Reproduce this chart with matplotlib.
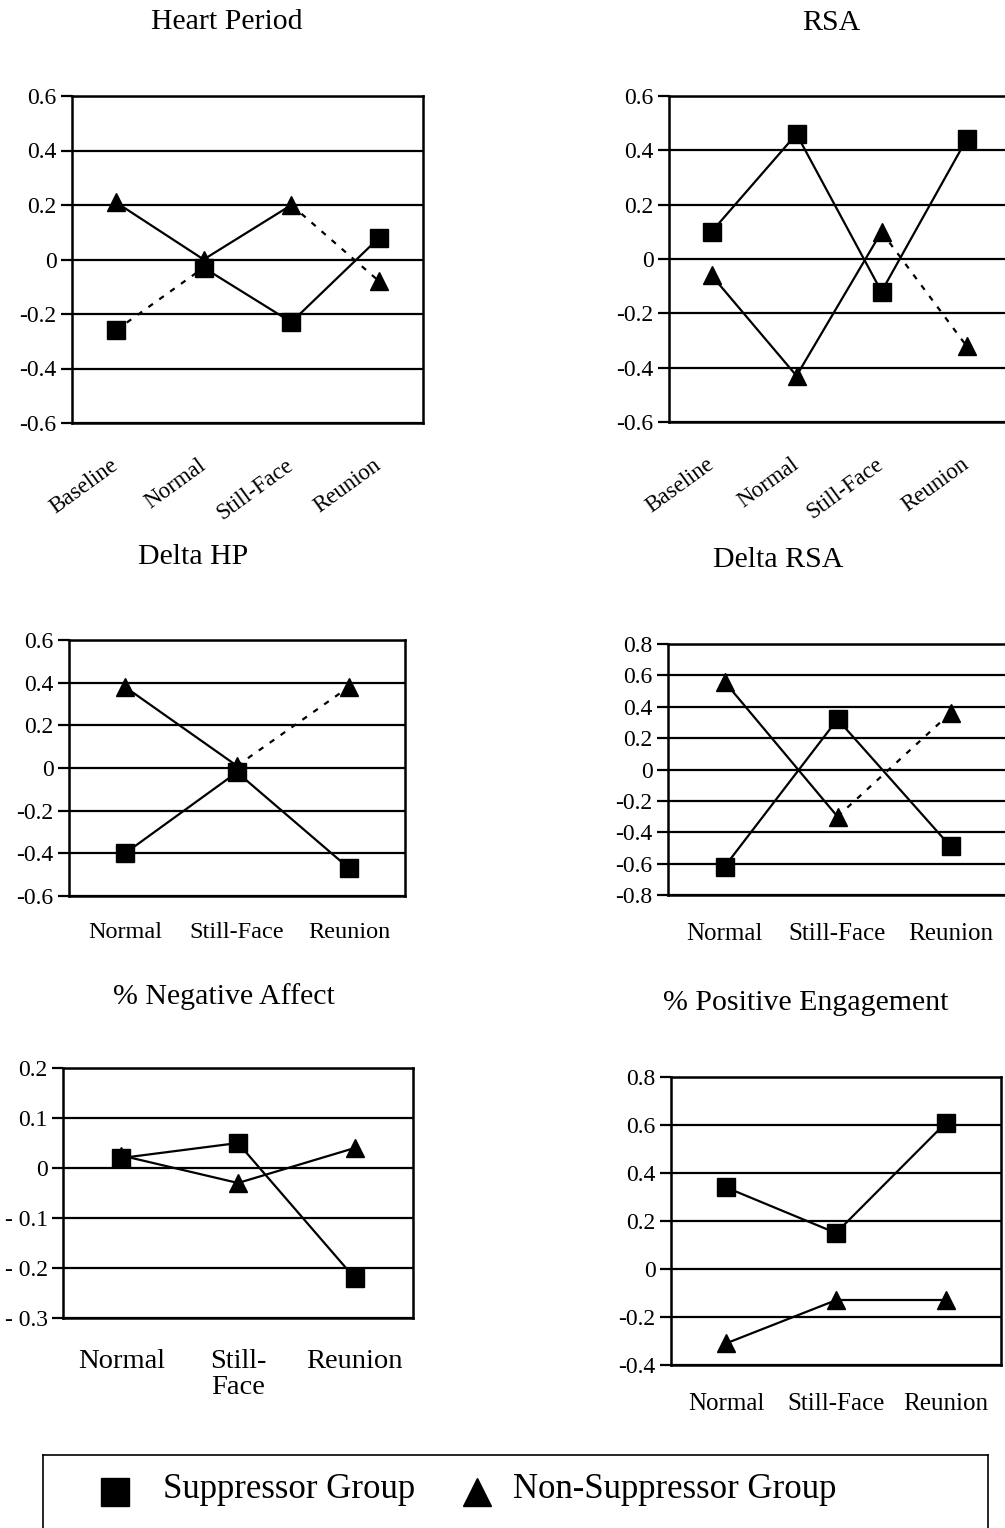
import matplotlib
matplotlib.use("Agg")
import matplotlib.pyplot as plt
import numpy as np

plt.rcParams['font.family'] = ['Liberation Serif', 'DejaVu Serif']

W, H = 1005, 1528

# ---------------- data ----------------
cats4 = ["Baseline", "Normal", "Still-Face", "Reunion"]
cats3 = ["Normal", "Still-Face", "Reunion"]
cats3_na = ["Normal", "Still-\nFace", "Reunion"]

hp_sup = [-0.26, -0.03, -0.23, 0.08]
hp_non = [0.21, 0.00, 0.20, -0.08]

rsa_sup = [0.10, 0.46, -0.12, 0.44]
rsa_non = [-0.06, -0.43, 0.10, -0.32]

dhp_sup = [-0.40, -0.02, -0.47]
dhp_non = [0.38, 0.01, 0.38]

drsa_sup = [-0.62, 0.32, -0.49]
drsa_non = [0.56, -0.30, 0.36]

na_sup = [0.02, 0.05, -0.22]
na_non = [0.025, -0.03, 0.04]

pe_sup = [0.34, 0.15, 0.61]
pe_non = [-0.31, -0.13, -0.13]

titles = ["Heart Period", "RSA", "Delta HP", "Delta RSA",
          "% Negative Affect", "% Positive Engagement"]
legend_labels = ["Suppressor Group", "Non-Suppressor Group"]

fig = plt.figure(figsize=(W / 100, H / 100), dpi=100)


def rect(l, t, r, b):
    return [l / W, 1 - b / H, (r - l) / W, (b - t) / H]


def panel(box, cats, sup, non, ylim, step, sup_styles, non_styles,
          rot=False, xfs=15, tick_fmt=None, xpad=8, yfs=17, linesp=1.2):
    ax = fig.add_axes(rect(*box))
    x = np.arange(len(cats))
    ax.set_xlim(-0.5, len(cats) - 0.5)
    ax.set_ylim(*ylim)
    yt = np.round(np.arange(ylim[0], ylim[1] + step / 2, step), 3)
    ax.set_yticks(yt)
    if tick_fmt is None:
        lab = [("0" if abs(v) < 1e-9 else f"{v:.1f}") for v in yt]
    else:
        lab = [tick_fmt(v) for v in yt]
    ax.set_yticklabels(lab, fontsize=yfs)
    for v in yt:
        ax.axhline(v, color='black', lw=1.6, zorder=1)
    ax.tick_params(axis='y', direction='out', length=8, width=1.6, pad=3)
    ax.tick_params(axis='x', length=0)
    ax.set_xticks(x)
    if rot:
        ax.set_xticklabels(cats, rotation=36, ha='right', va='center',
                           rotation_mode='anchor', fontsize=16.5)
    else:
        ax.set_xticklabels(cats, fontsize=xfs, linespacing=linesp)
    ax.tick_params(axis='x', pad=xpad)
    for s in ax.spines.values():
        s.set_linewidth(1.8)
    for yv, styles in ((sup, sup_styles), (non, non_styles)):
        for i in range(len(yv) - 1):
            ax.plot(x[i:i + 2], yv[i:i + 2], color='black', lw=1.6,
                    linestyle=styles[i], zorder=2,
                    dashes=(2.5, 3.5) if styles[i] == '--' else (None, None))
    ax.plot(x, sup, 's', color='black', ms=13, zorder=3, clip_on=False)
    ax.plot(x, non, '^', color='black', ms=13, zorder=3, clip_on=False)
    return ax


panel((72, 96, 423, 423), cats4, hp_sup, hp_non, (-0.6, 0.6), 0.2,
      ['--', '-', '-'], ['-', '-', '--'], rot=True, xpad=29)
panel((669, 96, 1009, 422), cats4, rsa_sup, rsa_non, (-0.6, 0.6), 0.2,
      ['-', '-', '-'], ['-', '-', '--'], rot=True, xpad=29)
panel((69, 640, 405, 896), cats3, dhp_sup, dhp_non, (-0.6, 0.6), 0.2,
      ['-', '-'], ['-', '--'], xfs=17.5, xpad=19)
panel((668, 644, 1007, 895), cats3, drsa_sup, drsa_non, (-0.8, 0.8), 0.2,
      ['-', '-'], ['-', '--'], xfs=18, xpad=20)
panel((63, 1068, 413, 1318), cats3_na, na_sup, na_non, (-0.3, 0.2), 0.1,
      ['-', '-'], ['-', '-'], xfs=20.5, xpad=22, linesp=1.1,
      tick_fmt=lambda v: "0" if abs(v) < 1e-9 else
      (f"- {abs(v):.1f}" if v < 0 else f"{v:.1f}"))
panel((671, 1077, 1001, 1365), cats3, pe_sup, pe_non, (-0.4, 0.8), 0.2,
      ['-', '-'], ['-', '-'], xfs=18, xpad=20)

title_pos = [(227, 22), (831, 23), (193, 557), (778, 560), (224, 997), (806, 1003)]
for t, (px, py) in zip(titles, title_pos):
    fig.text(px / W, 1 - py / H, t, ha='center', va='center', fontsize=21.5)

# legend box
lax = fig.add_axes(rect(43, 1455, 988, 1540))
lax.set_xlim(0, 1)
lax.set_ylim(0, 1)
lax.set_xticks([])
lax.set_yticks([])
for s in lax.spines.values():
    s.set_linewidth(1.2)
lax.plot([0.0762], [0.57], 's', color='black', ms=20, transform=lax.transAxes)
lax.plot([0.459], [0.56], '^', color='black', ms=20, transform=lax.transAxes)
lax.text(0.127, 0.60, legend_labels[0], fontsize=25, va='center', ha='left',
         transform=lax.transAxes)
lax.text(0.497, 0.60, legend_labels[1], fontsize=25, va='center', ha='left',
         transform=lax.transAxes)

fig.savefig("out.png", dpi=100)
